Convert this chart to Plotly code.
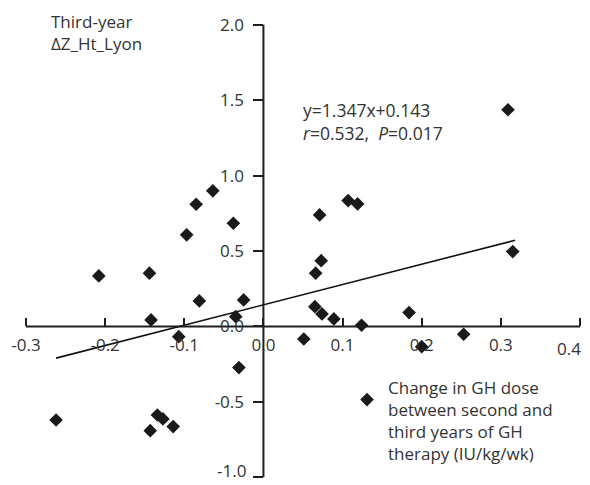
import plotly.graph_objects as go

# Data
dose_change = [0.309, 0.315, 0.071, 0.107, 0.119, 0.073, 0.066, 0.065, 0.074, 0.089,
               0.124, 0.184, 0.051, 0.200, 0.253,
               -0.208, -0.144, -0.142, -0.081, -0.025, -0.035, -0.107, -0.031,
               -0.262, -0.134, -0.127, -0.143, -0.114, -0.085, -0.064, -0.038, -0.097]
delta_z_ht = [1.436, 0.496, 0.739, 0.834, 0.812, 0.436, 0.353, 0.131, 0.083, 0.050,
              0.008, 0.092, -0.083, -0.134, -0.052,
              0.335, 0.353, 0.043, 0.169, 0.176, 0.065, -0.068, -0.273,
              -0.620, -0.587, -0.613, -0.691, -0.664, 0.810, 0.899, 0.684, 0.607]

slope = 1.347
intercept = 0.143
fit_x = [-0.262, 0.318]
fit_y = [slope * v + intercept for v in fit_x]

x_ticks = [-0.3, -0.2, -0.1, 0.0, 0.1, 0.2, 0.3, 0.4]
y_ticks = [-1.0, -0.5, 0.0, 0.5, 1.0, 1.5, 2.0]
x_axis_span = [-0.3, 0.4]
y_axis_span = [-1.0, 2.0]

legend_text = "Change in GH dose<br>between second and<br>third years of GH<br>therapy (IU/kg/wk)"
y_title = "Third-year<br>ΔZ_Ht_Lyon"
equation = "y=1.347x+0.143<br><i>r</i>=0.532,  <i>P</i>=0.017"

# view window (slightly wider than the axis spans so end labels are not clipped)
x_view = [-0.32274, 0.41264]
y_view = [-1.051, 2.1107]

FONT = "Open Sans"
TXT = "#333333"
AX = "#1e1e1e"

fig = go.Figure()
fig.add_trace(go.Scatter(
    x=fit_x, y=fit_y, mode="lines",
    line=dict(color="#111111", width=1.6),
    showlegend=False, hoverinfo="skip"))
fig.add_trace(go.Scatter(
    x=dose_change, y=delta_z_ht, mode="markers",
    marker=dict(symbol="diamond", size=10.5, color="#1a1a1a"),
    name=" "))

xpos = (0 - y_view[0]) / (y_view[1] - y_view[0])
ypos = (0 - x_view[0]) / (x_view[1] - x_view[0])

# the outermost labels sit at the page edge; they are drawn as annotations nudged inward
x_ticktext = [f"{v:.1f}" if v != x_axis_span[1] else "" for v in x_ticks]
y_ticktext = [f"{v:.1f}" if v != y_axis_span[0] else "" for v in y_ticks]

fig.update_layout(
    width=582, height=477,
    margin=dict(l=0, r=0, t=0, b=0, autoexpand=False),
    paper_bgcolor="white", plot_bgcolor="white",
    font=dict(family=FONT, size=17, color=TXT),
    xaxis=dict(range=x_view, tickvals=x_ticks, ticktext=x_ticktext,
               showgrid=False, zeroline=False, showline=False,
               ticks="inside", ticklen=8, tickwidth=2, tickcolor=AX,
               anchor="free", position=xpos, domain=[0, 1], automargin=False,
               ticklabeloverflow="allow",
               tickfont=dict(size=17, color=TXT), ticklabelstandoff=7),
    yaxis=dict(range=y_view, tickvals=y_ticks, ticktext=y_ticktext,
               showgrid=False, zeroline=False, showline=False,
               ticks="outside", ticklen=10, tickwidth=2, tickcolor=AX,
               anchor="free", position=ypos, domain=[0, 1], automargin=False,
               ticklabeloverflow="allow",
               tickfont=dict(size=17, color=TXT), ticklabelstandoff=6),
    shapes=[
        dict(type="line", xref="x", yref="y", x0=x_axis_span[0], x1=x_axis_span[1], y0=0, y1=0,
             line=dict(color=AX, width=2), layer="below"),
        dict(type="line", xref="x", yref="y", x0=0, x1=0, y0=y_axis_span[0], y1=y_axis_span[1],
             line=dict(color=AX, width=2), layer="below"),
    ],
    showlegend=True,
    legend=dict(x=0.5825, y=0.2159, xanchor="left", yanchor="top",
                font=dict(size=17, color=TXT),
                bgcolor="rgba(0,0,0,0)", itemwidth=30, tracegroupgap=0),
    annotations=[
        dict(text=y_title, x=0.07045, y=1.0, xref="paper", yref="paper",
             xanchor="left", yanchor="top", align="left", showarrow=False,
             font=dict(size=17, color=TXT)),
        dict(text=equation, x=0.048, y=1.53,
             xref="x", yref="y", xanchor="left", yanchor="top", align="left",
             showarrow=False, font=dict(size=17.5, color=TXT)),
        dict(text=legend_text, x=0.6495, y=0.2327, xref="paper", yref="paper",
             xanchor="left", yanchor="top", align="left", showarrow=False,
             font=dict(size=17, color=TXT)),
        dict(text=f"{x_axis_span[1]:.1f}", x=x_axis_span[1], y=0, xref="x", yref="y",
             xanchor="center", yanchor="middle", xshift=-11, yshift=-22,
             showarrow=False, font=dict(size=17, color=TXT)),
        dict(text=f"{y_axis_span[0]:.1f}", x=0, y=y_axis_span[0], xref="x", yref="y",
             xanchor="right", yanchor="middle", xshift=-15, yshift=7,
             showarrow=False, font=dict(size=17, color=TXT)),
    ],
)

fig.write_html("out.html")
